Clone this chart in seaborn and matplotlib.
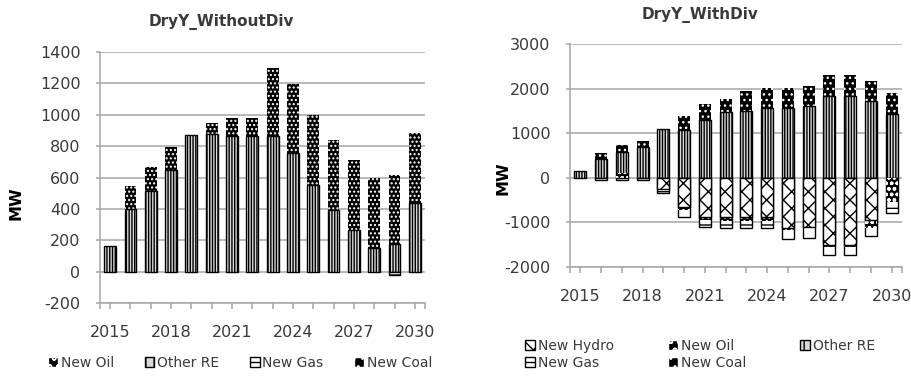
import numpy as np
import pandas as pd
import matplotlib
matplotlib.use("Agg")
import matplotlib.pyplot as plt
from matplotlib.patches import Patch
import seaborn as sns

# ---- data -------------------------------------------------------------
years = list(range(2015, 2031))
tick_years = [2015, 2018, 2021, 2024, 2027, 2030]

# DryY_WithoutDiv (MW)
wo_oil = [0, 0, 0, 0, 0, 0, 0, 0, 0, 0, 0, 0, 0, 0, 0, 0]
wo_re = [165, 400, 515, 650, 870, 875, 865, 865, 865, 755, 550, 395, 265, 150, 175, 440]
wo_gas = [0, 0, 0, 0, 0, 0, 0, 0, 0, 0, 0, 0, 0, 0, -20, 0]
wo_coal = [0, 145, 155, 145, 0, 70, 115, 115, 435, 440, 450, 445, 445, 445, 440, 445]

# DryY_WithDiv (MW)
wd_hydro = [0, 0, 0, 0, -240, -650, -880, -880, -880, -880, -1130, -1100, -1510, -1510, -945, 0]
wd_oil = [0, 0, 100, 0, 0, -70, -70, -80, -80, -80, -30, -30, -50, -50, -180, -540]
wd_re = [150, 420, 490, 700, 1090, 1075, 1290, 1470, 1500, 1575, 1575, 1615, 1825, 1825, 1725, 1430]
wd_gas = [0, -60, -60, -60, -90, -160, -160, -165, -165, -165, -220, -210, -180, -180, -170, -240]
wd_coal = [0, 140, 150, 135, 0, 315, 375, 300, 450, 450, 450, 455, 470, 470, 450, 470]

# ---- style ------------------------------------------------------------
sns.set_theme(style="white")
plt.rcParams["font.family"] = ["DejaVu Sans"]
plt.rcParams["axes.unicode_minus"] = False
plt.rcParams["hatch.linewidth"] = 1.0

GRID = "#a6a6a6"
TEXT = "#3a3a3a"

STYLES = {
    "New Hydro": dict(face="white", hatch="xx", hcol="black"),
    "New Oil": dict(face="black", hatch="ooo", hcol="white"),
    "Other RE": dict(face="#d8d8d8", hatch="||||||", hcol="black"),
    "New Gas": dict(face="white", hatch="-", hcol="black"),
    "New Coal": dict(face="black", hatch="...", hcol="white"),
}


def style_patch(p, name, coal_hatch=None):
    st = STYLES[name]
    hatch = st["hatch"]
    if name == "New Coal" and coal_hatch:
        hatch = coal_hatch
    p.set_facecolor(st["face"])
    p.set_hatch(hatch)
    if st["face"] == "black":
        p.set_edgecolor(st["hcol"])
        p.set_linewidth(0)
    else:
        p.set_edgecolor("black")
        p.set_linewidth(1.0)
    if hasattr(p, "set_hatchcolor"):
        p.set_hatchcolor(st["hcol"])


def draw_layer(ax, heights, own, name, coal_hatch=None):
    n0 = len(ax.patches)
    df = pd.DataFrame({"year": years, "mw": heights})
    sns.barplot(data=df, x="year", y="mw", native_scale=True, width=0.58,
                errorbar=None, color="white", saturation=1, ax=ax)
    for p, v in zip(ax.patches[n0:], own):
        style_patch(p, name, coal_hatch)
        if v == 0:
            p.set_visible(False)


def stacked(ax, series, coal_hatch=None):
    # positive stack (bottom -> top), drawn as overlaid cumulative bars
    cum = np.zeros(len(years))
    pos = []
    for name, vals in series:
        v = np.clip(np.asarray(vals, float), 0, None)
        cum = cum + v
        pos.append((name, cum.copy(), v))
    for name, c, v in reversed(pos):
        draw_layer(ax, c, v, name, coal_hatch)
    # negative stack (zero -> down)
    cum = np.zeros(len(years))
    neg = []
    for name, vals in series:
        v = np.clip(np.asarray(vals, float), None, 0)
        if not v.any():
            continue
        cum = cum + v
        neg.append((name, cum.copy(), v))
    for name, c, v in reversed(neg):
        draw_layer(ax, c, v, name, coal_hatch)


def finish_axes(ax, ylim, ystep, labelsize):
    ax.set_xlim(2014.5, 2030.5)
    ax.set_ylim(*ylim)
    ax.set_yticks(np.arange(ylim[0], ylim[1] + 1, ystep))
    ax.set_xticks(years)
    ax.set_xticklabels([str(y) if y in tick_years else "" for y in years])
    ax.set_xticks([2014.5, 2030.5], minor=True)
    ax.yaxis.grid(True, color=GRID, linewidth=1.1)
    ax.xaxis.grid(False)
    ax.set_axisbelow(True)
    for s in ("top", "right"):
        ax.spines[s].set_visible(False)
    for s in ("left", "bottom"):
        ax.spines[s].set_color(GRID)
        ax.spines[s].set_linewidth(1.1)
    ax.tick_params(axis="y", length=3, width=1.1, color=GRID, pad=11,
                   labelsize=labelsize, labelcolor=TEXT, left=True)
    ax.tick_params(axis="x", which="both", length=4, width=1.1, color=GRID,
                   pad=12, labelsize=labelsize, labelcolor=TEXT, bottom=True)
    ax.set_xlabel("")
    ax.set_ylabel("")


fig = plt.figure(figsize=(9.12, 3.76), dpi=100)

# ---- left panel ---------------------------------------------------------
ax1 = fig.add_axes([0.1096, 0.1941, 0.3564, 0.6676])
stacked(ax1, [("New Oil", wo_oil), ("Other RE", wo_re),
              ("New Gas", wo_gas), ("New Coal", wo_coal)], coal_hatch="....")
finish_axes(ax1, (-200, 1400), 200, 11.5)
fig.text(0.243, 0.941, "DryY_WithoutDiv", ha="center", va="center",
         fontsize=11, fontweight="bold", color=TEXT)
fig.text(0.018, 0.46, "MW", rotation=90, ha="center", va="center",
         fontsize=11.5, fontweight="bold", color="black")

# ---- right panel --------------------------------------------------------
ax2 = fig.add_axes([0.625, 0.2899, 0.364, 0.593])
stacked(ax2, [("New Hydro", wd_hydro), ("New Oil", wd_oil), ("Other RE", wd_re),
              ("New Gas", wd_gas), ("New Coal", wd_coal)], coal_hatch="...")
finish_axes(ax2, (-2000, 3000), 1000, 11.5)
fig.text(0.768, 0.96, "DryY_WithDiv", ha="center", va="center",
         fontsize=11, fontweight="bold", color=TEXT)
fig.text(0.5515, 0.527, "MW", rotation=90, ha="center", va="center",
         fontsize=11.5, fontweight="bold", color="black")


# ---- legends ------------------------------------------------------------
def handle(name):
    st = STYLES[name]
    h = Patch(facecolor=st["face"], hatch=st["hatch"][:1] * 2,
              edgecolor=st["hcol"] if st["face"] == "black" else "black",
              linewidth=1.0, label=name)
    return h


left_names = ["New Oil", "Other RE", "New Gas", "New Coal"]
fig.legend(handles=[handle(n) for n in left_names], loc="center left",
           bbox_to_anchor=(0.053, 0.035), ncol=4, frameon=False,
           fontsize=10, handlelength=0.7, handleheight=0.7,
           handletextpad=0.2, columnspacing=2.2, labelcolor=TEXT,
           borderaxespad=0, borderpad=0)

right_order = ["New Hydro", "New Gas", "New Oil", "New Coal", "Other RE"]
fig.legend(handles=[handle(n) for n in right_order], loc="center left",
           bbox_to_anchor=(0.576, 0.058), ncol=3, frameon=False,
           fontsize=10, handlelength=0.7, handleheight=0.7,
           handletextpad=0.2, columnspacing=3.9, labelcolor=TEXT,
           borderaxespad=0, borderpad=0, labelspacing=0.2)

fig.savefig("out.png", dpi=100)
